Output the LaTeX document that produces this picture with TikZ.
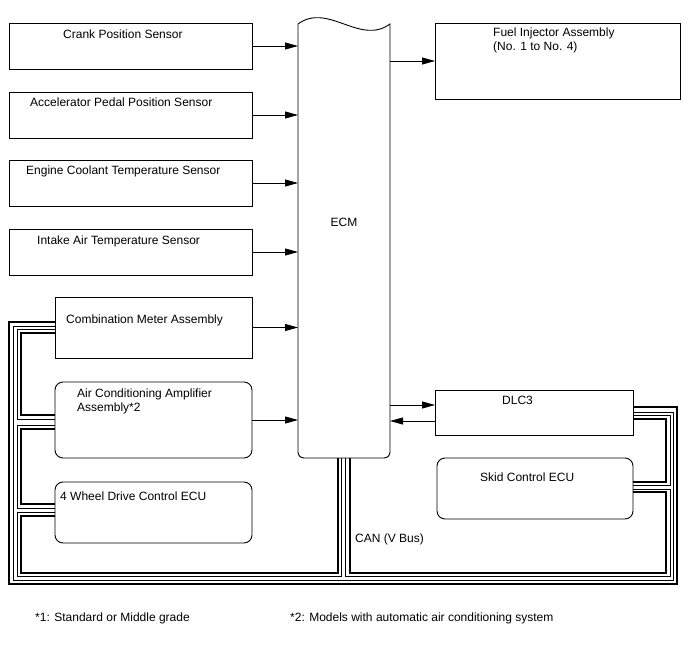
\documentclass[tikz,border=0pt]{standalone}
\usepackage{fontspec}
\setmainfont{Liberation Sans}
\usetikzlibrary{arrows.meta}
\begin{document}
\begin{tikzpicture}[x=1pt,y=-1pt,
 box/.style={draw, line width=0.9pt, inner sep=0, outer sep=0, anchor=north west},
 rbox/.style={box, rounded corners=8pt},
 txt/.style={anchor=base west, inner sep=0, font=\fontsize{12}{14}\selectfont},
 arr/.style={line width=0.9pt, -{Triangle[length=13pt,width=7pt]}},
 thk/.style={line width=2.6pt},
 thn/.style={line width=1pt}]
\useasboundingbox (0,0) rectangle (688,658);

% boxes
\node[box, minimum width=243, minimum height=46] (crank) at (9,23) {};
\node[box, minimum width=243, minimum height=46] (accel) at (9,92) {};
\node[box, minimum width=243, minimum height=46] (cool) at (9,160) {};
\node[box, minimum width=243, minimum height=46] (intake) at (9,229) {};
\node[box, minimum width=197, minimum height=61] (meter) at (55,297) {};
\node[rbox, minimum width=197, minimum height=76] (ac) at (55,382) {};
\node[rbox, minimum width=197, minimum height=61] (fwd) at (55,482) {};
\node[box, minimum width=245, minimum height=76] (fuel) at (435,23) {};
\node[box, minimum width=198, minimum height=45] (dlc) at (435,390) {};
\node[rbox, minimum width=196, minimum height=61] (skid) at (437,458) {};

% ECM
\node[inner sep=0, outer sep=0, minimum width=92, minimum height=434, anchor=north west] (ecm) at (298,24) {};
\draw[line width=0.9pt] (298,24) .. controls (328,2) and (360,46) .. (390,24)
  [rounded corners=6pt] -- (390,458) -- (298,458) [sharp corners] -- cycle;

% texts
\node[txt] at (63,39) {Crank Position Sensor};
\node[txt] at (30,107) {Accelerator Pedal Position Sensor};
\node[txt] at (26,175) {Engine Coolant Temperature Sensor};
\node[txt] at (37,244) {Intake Air Temperature Sensor};
\node[txt] at (66,323) {Combination Meter Assembly};
\node[txt] at (77,397) {Air Conditioning Amplifier};
\node[txt] at (77,411) {Assembly*2};
\node[txt] at (60,500) {4 Wheel Drive Control ECU};
\node[txt, anchor=center] at (344,222) {ECM};
\node[txt] at (493,37) {Fuel Injector Assembly};
\node[txt] at (493,51) {(No. 1 to No. 4)};
\node[txt] at (502,404) {DLC3};
\node[txt] at (480,481) {Skid Control ECU};
\node[txt] at (355,542) {CAN (V Bus)};
\node[txt] at (35,621) {*1: Standard or Middle grade};
\node[txt] at (290,621) {*2: Models with automatic air conditioning system};

% arrows
\foreach \b in {crank,accel,cool,intake,meter,ac}
  \draw[arr] (\b.east) -- (\b.east -| ecm.west);
\draw[arr] (fuel.west -| ecm.east) -- (fuel.west);
\draw[arr] ([yshift=7.5pt]dlc.west -| ecm.east) -- ([yshift=7.5pt]dlc.west);
\draw[arr] ([yshift=-8.5pt]dlc.west) -- ([yshift=-8.5pt]dlc.west -| ecm.east);

% CAN bus: outer pair
\draw[thk] (dlc.east |- 0,407) -- (677,407) -- (677,584) -- (9,584) -- (9,322) -- (meter.west |- 0,322);
\draw[thn] (dlc.east |- 0,412) -- (673,412) -- (673,580) -- (13,580) -- (13,326) -- (meter.west |- 0,326);
% left loops
\draw[thn] (meter.west |- 0,329) -- (17,329) -- (17,419) -- (ac.west |- 0,419);
\draw[thk] (meter.west |- 0,333) -- (21,333) -- (21,415) -- (ac.west |- 0,415);
\draw[thn] (ac.west |- 0,425) -- (17,425) -- (17,508) -- (fwd.west |- 0,508);
\draw[thk] (ac.west |- 0,429) -- (21,429) -- (21,504) -- (fwd.west |- 0,504);
\draw[thn] (fwd.west |- 0,512) -- (17,512) -- (17,576) -- (341,576) -- (341,0 |- ecm.south);
\draw[thk] (fwd.west |- 0,516) -- (21,516) -- (21,573) -- (338,573) -- (338,0 |- ecm.south);
% right loops
\draw[thn] (dlc.east |- 0,415) -- (670,415) -- (670,485) -- (skid.east |- 0,485);
\draw[thk] (dlc.east |- 0,419) -- (666,419) -- (666,482) -- (skid.east |- 0,482);
\draw[thn] (skid.east |- 0,489) -- (670,489) -- (670,576) -- (345,576) -- (345,0 |- ecm.south);
\draw[thk] (skid.east |- 0,492) -- (666,492) -- (666,573) -- (350,573) -- (350,0 |- ecm.south);
\end{tikzpicture}
\end{document}
